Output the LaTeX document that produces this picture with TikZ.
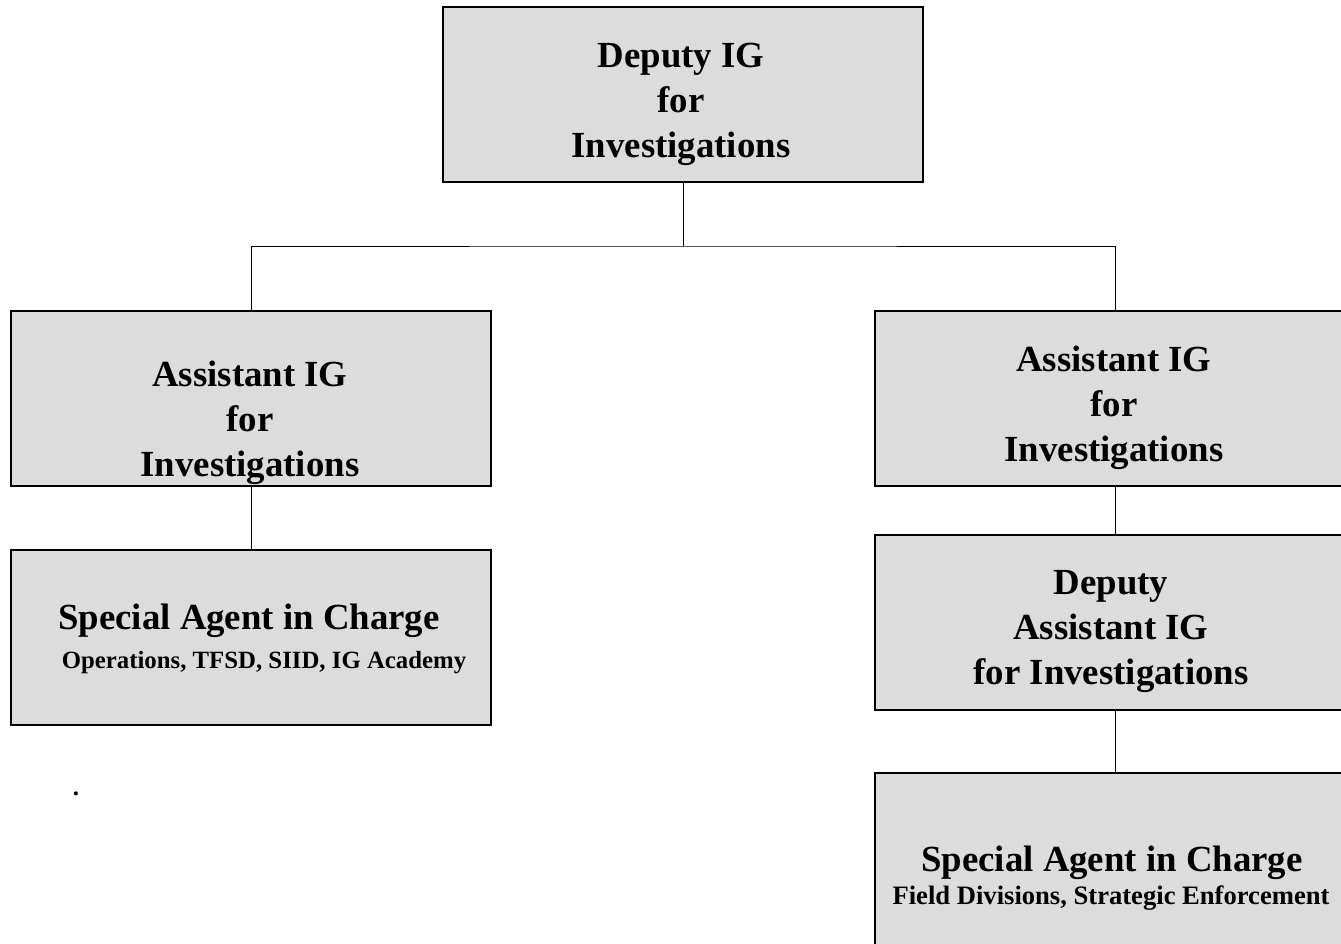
\documentclass[tikz,border=0pt]{standalone}
\usepackage{fontspec}
\setmainfont{Liberation Serif}
\usetikzlibrary{positioning}
\definecolor{boxgray}{HTML}{DCDCDC}
\begin{document}
\begin{tikzpicture}[x=0.5pt, y=-0.5pt,
        orgbox/.style={draw, fill=boxgray, line width=1pt, minimum width=240pt,
            minimum height=87.5pt, inner sep=0pt},
        maintext/.style={font=\fontsize{18.4}{22.5}\selectfont\bfseries, align=center, inner sep=0pt},
        subtext/.style={font=\fontsize{12.4}{15}\selectfont\bfseries, align=center, inner sep=0pt},
        link/.style={line width=0.5pt}]
    \useasboundingbox (0,0) rectangle (1341,944);
    \clip (0,0) rectangle (1341,944);
    % boxes
    \node[orgbox] (deputy) at (683,94.5) {};
    \node[orgbox] (asstL) at (251,398.5) {};
    \node[orgbox] (asstR) at (1115,398.5) {};
    \node[orgbox] (sacL) at (251,637.5) {};
    \node[orgbox] (dasst) at (1115,622.5) {};
    \node[orgbox] (sacR) at (1115,860.5) {};
    % texts
    \node[maintext] (deputy-text) at (681,104) {Deputy IG\\for\\Investigations};
    \node[maintext] (asstL-text) at (250,423) {Assistant IG\\for\\Investigations};
    \node[maintext] (asstR-text) at (1114,408) {Assistant IG\\for\\Investigations};
    \node[maintext] (dasst-text) at (1111,632) {Deputy\\Assistant IG\\for Investigations};
    \node[maintext, anchor=base] (sacL-text) at (249,629) {Special Agent in Charge};
    \node[subtext, anchor=base] (sacL-sub) at (264,668) {Operations, TFSD, SIID, IG Academy};
    \node[maintext, anchor=base] (sacR-text) at (1112,871) {Special Agent in Charge};
    \node[subtext, font=\fontsize{13.3}{16}\selectfont\bfseries, anchor=base] (sacR-sub) at (1111,904) {Field Divisions, Strategic Enforcement};
    \node[subtext, anchor=base] (dot) at (76,795) {.};
    % connectors
    \coordinate (split) at (683,246);
    \draw[link] (deputy.south) -- (split);
    \draw[link] (asstL.north) |- (split) -| (asstR.north);
    \draw[link] (asstL.south) -- (sacL.north);
    \draw[link] (asstR.south) -- (dasst.north);
    \draw[link] (dasst.south) -- (sacR.north);
\end{tikzpicture}
\end{document}
